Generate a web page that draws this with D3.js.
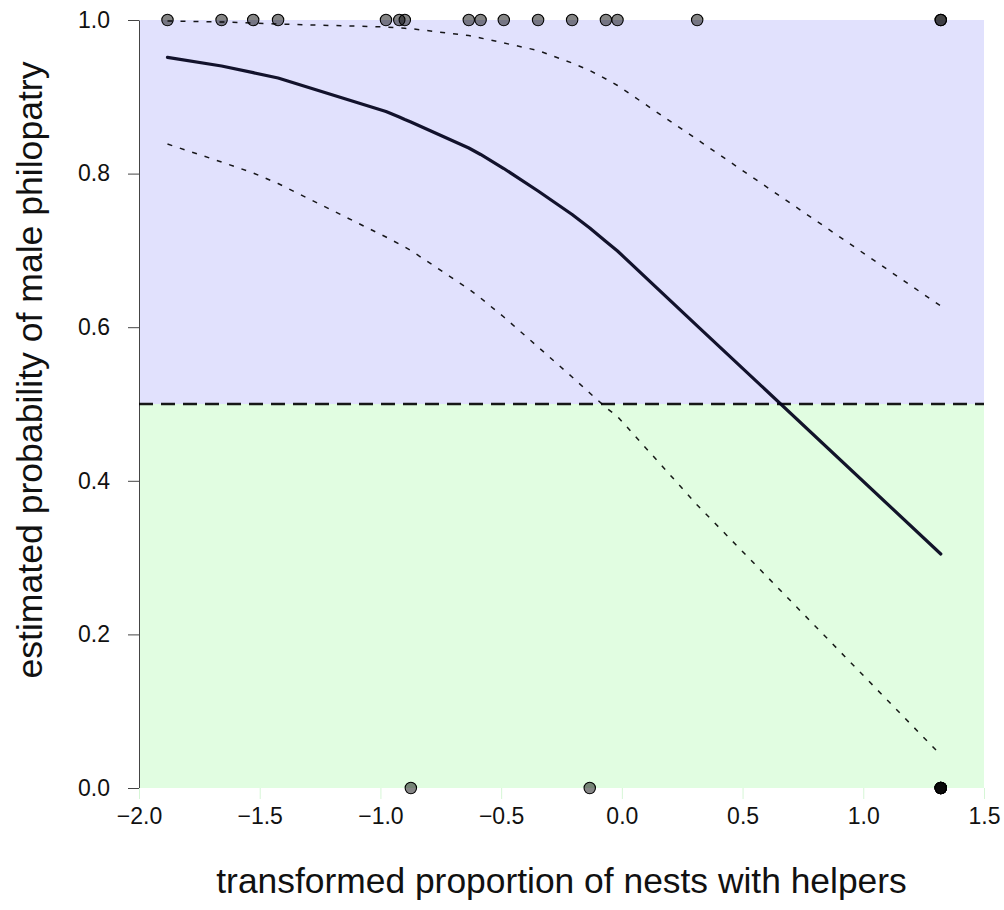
<!DOCTYPE html>
<html>
<head>
<meta charset="utf-8">
<script src="https://cdn.jsdelivr.net/npm/d3@7"></script>
<style>
  body { margin: 0; background: #fff; }
  svg { display: block; }
  text { font-family: "Liberation Sans", Arial, Helvetica, sans-serif; fill: #111; }
</style>
</head>
<body>
<svg id="chart" width="1004" height="910"></svg>
<script>
// Fitted logistic curve, evaluated at each distinct predictor value
const predictorX = [-1.882, -1.658, -1.527, -1.424, -0.977, -0.922, -0.899, -0.874, -0.634, -0.585,
                    -0.489, -0.347, -0.206, -0.133, -0.066, -0.018, 0.312, 1.321];
const fittedProb = [0.9514, 0.9401, 0.9314, 0.9245, 0.8809, 0.8737, 0.8704, 0.8672, 0.8333, 0.8249,
                    0.8066, 0.7773, 0.7467, 0.7292, 0.7116, 0.6992, 0.6018, 0.3047];
const upperCI    = [0.9987, 0.9974, 0.9961, 0.9948, 0.9909, 0.9896, 0.9892, 0.9887, 0.9798, 0.9766,
                    0.9701, 0.9603, 0.9440, 0.9342, 0.9232, 0.9147, 0.8444, 0.6276];
const lowerCI    = [0.8385, 0.8151, 0.8008, 0.7871, 0.7174, 0.7083, 0.7044, 0.6999, 0.6497, 0.6380,
                    0.6133, 0.5742, 0.5352, 0.5143, 0.4954, 0.4837, 0.3685, 0.0430];

// Observed groups: predictor value and whether males were philopatric (1) or not (0)
const obsX = [-1.882, -1.658, -1.527, -1.424, -0.977, -0.922, -0.899, -0.634, -0.585, -0.489,
              -0.347, -0.206, -0.066, -0.018, 0.312, 1.321, 1.321,
              -0.874, -0.133, 1.321, 1.321, 1.321, 1.321, 1.321];
const obsY = [1, 1, 1, 1, 1, 1, 1, 1, 1, 1,
              1, 1, 1, 1, 1, 1, 1,
              0, 0, 0, 0, 0, 0, 0];

const xTicks = [-2.0, -1.5, -1.0, -0.5, 0.0, 0.5, 1.0, 1.5];
const yTicks = [0.0, 0.2, 0.4, 0.6, 0.8, 1.0];
const threshold = 0.5;

const xTitle = "transformed proportion of nests with helpers";
const yTitle = "estimated probability of male philopatry";

const svg = d3.select("#chart");
const plot = { left: 139, right: 984, top: 20, bottom: 788 };

const x = d3.scaleLinear().domain([-2.0, 1.5]).range([plot.left, plot.right]);
const y = d3.scaleLinear().domain([0, 1]).range([plot.bottom, plot.top]);

// Background bands above and below the 0.5 threshold
svg.append("rect")
  .attr("x", x(-2.0)).attr("y", y(1))
  .attr("width", x(1.5) - x(-2.0)).attr("height", y(threshold) - y(1))
  .attr("fill", "#e1e1fd");
svg.append("rect")
  .attr("x", x(-2.0)).attr("y", y(threshold))
  .attr("width", x(1.5) - x(-2.0)).attr("height", y(0) - y(threshold))
  .attr("fill", "#e1fde1");

// Axes
const fmt = d3.format(".1f");
const yAxis = svg.append("g")
  .attr("transform", `translate(${plot.left},0)`)
  .call(d3.axisLeft(y).tickValues(yTicks).tickFormat(fmt).tickSize(11).tickSizeOuter(0).tickPadding(18));
yAxis.select(".domain").attr("stroke", "#444");
yAxis.selectAll(".tick line").attr("stroke", "#444");
yAxis.selectAll(".tick text").style("font-size", "23px").attr("fill", "#111");

const xAxis = svg.append("g")
  .attr("transform", `translate(0,${plot.bottom})`)
  .call(d3.axisBottom(x).tickValues(xTicks).tickFormat(fmt).tickSize(11).tickSizeOuter(0).tickPadding(9));
xAxis.select(".domain").attr("stroke", "none");
xAxis.selectAll(".tick line").attr("stroke", "#d6f6d6");
xAxis.selectAll(".tick text").style("font-size", "23px").attr("fill", "#111");

// Observed points
svg.append("g").selectAll("circle")
  .data(obsX.map((v, i) => ({ x: v, y: obsY[i] })))
  .join("circle")
  .attr("cx", d => x(d.x))
  .attr("cy", d => y(d.y))
  .attr("r", 5.7)
  .attr("fill", "#000")
  .attr("fill-opacity", 0.48)
  .attr("stroke", "#000")
  .attr("stroke-width", 1.1);

// Threshold line
svg.append("line")
  .attr("x1", x(-2.0)).attr("x2", x(1.5))
  .attr("y1", y(threshold)).attr("y2", y(threshold))
  .attr("stroke", "#000").attr("stroke-opacity", 0.9)
  .attr("stroke-width", 2.4)
  .attr("stroke-dasharray", "14 8");

const line = series => d3.line()
  .x((d, i) => x(predictorX[i]))
  .y(d => y(d))(series);

// Confidence bounds
[upperCI, lowerCI].forEach(s => {
  svg.append("path")
    .attr("d", line(s))
    .attr("fill", "none")
    .attr("stroke", "#000").attr("stroke-opacity", 0.9)
    .attr("stroke-width", 1.5)
    .attr("stroke-dasharray", "5 8");
});

// Fitted curve
svg.append("path")
  .attr("d", line(fittedProb))
  .attr("fill", "none")
  .attr("stroke", "#00001a").attr("stroke-opacity", 0.92)
  .attr("stroke-width", 3.2)
  .attr("stroke-linecap", "round")
  .attr("stroke-linejoin", "round");

// Axis titles
svg.append("text")
  .attr("x", (plot.left + plot.right) / 2).attr("y", 893)
  .attr("text-anchor", "middle")
  .style("font-size", "35.4px")
  .text(xTitle);
svg.append("text")
  .attr("transform", `translate(42,370) rotate(-90)`)
  .attr("text-anchor", "middle")
  .style("font-size", "35.6px")
  .text(yTitle);
</script>
</body>
</html>
